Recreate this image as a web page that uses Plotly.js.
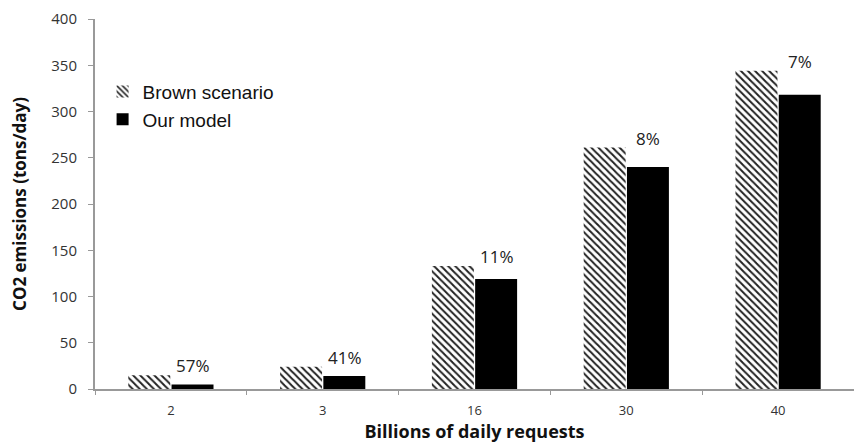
<!DOCTYPE html>
<html>
<head>
<meta charset="utf-8">
<script src="https://cdn.plot.ly/plotly-3.0.1.min.js"></script>
<style>html,body{margin:0;padding:0;background:#fff;}#chart{width:854px;height:443px;}</style>
</head>
<body>
<div id="chart"></div>
<script>
const categories = ['2', '3', '16', '30', '40'];
const brownScenario = [15, 24, 133, 261, 344];
const ourModel = [5, 14, 119, 240, 318];
const savings = ['57%', '41%', '11%', '8%', '7%'];
const seriesNames = ['Brown scenario', 'Our model'];

const traces = [
  {
    type: 'bar', name: seriesNames[0], x: categories, y: brownScenario,
    marker: {color: 'white', line: {width: 0},
      pattern: {shape: '\\', fgcolor: '#222', bgcolor: 'white', size: 5, solidity: 0.4}}
  },
  {
    type: 'bar', name: seriesNames[1], x: categories, y: ourModel,
    marker: {color: '#000', line: {width: 0}}
  }
];

const annotations = categories.map((c, i) => ({
  x: i, y: brownScenario[i], xref: 'x', yref: 'y',
  text: savings[i], showarrow: false, xshift: 22, yanchor: 'bottom', yshift: -4,
  font: {family: 'Open Sans, sans-serif', size: 17, color: '#222'}
}));

const layout = {
  width: 854, height: 443,
  margin: {l: 95, r: 0, t: 19, b: 54},
  paper_bgcolor: 'white', plot_bgcolor: 'white',
  barmode: 'group', bargap: 0.43, bargroupgap: 0.03,
  showlegend: true,
  legend: {x: 0.01, y: 0.855, xanchor: 'left', yanchor: 'top',
    font: {family: 'Liberation Sans, Arial, sans-serif', size: 19, color: '#111'},
    bgcolor: 'rgba(0,0,0,0)', itemwidth: 30, tracegroupgap: 2},
  xaxis: {
    type: 'category', range: [-0.5, 4.5], autorange: false, automargin: false,
    showgrid: false, showline: true, linecolor: '#999', linewidth: 2,
    ticks: 'outside', tickson: 'boundaries', ticklen: 4, tickcolor: '#999',
    ticklabelstandoff: 8,
    tickfont: {family: 'Open Sans, sans-serif', size: 13, color: '#333'},
    title: {text: 'Billions of daily requests', standoff: 6,
      font: {family: 'Open Sans, sans-serif', size: 18, color: '#111', weight: 'bold'}}
  },
  yaxis: {
    range: [0, 400], autorange: false, automargin: false, dtick: 50, showgrid: false, zeroline: false,
    showline: true, linecolor: '#999', linewidth: 2,
    ticks: 'outside', ticklen: 5, tickcolor: '#999', ticklabelstandoff: 8,
    tickfont: {family: 'Open Sans, sans-serif', size: 15, color: '#333'},
    title: {text: 'CO2 emissions (tons/day)', standoff: 20,
      font: {family: 'Open Sans, sans-serif', size: 17, color: '#111', weight: 'bold'}}
  },
  annotations: annotations
};

Plotly.newPlot('chart', traces, layout, {displayModeBar: false, staticPlot: true});
</script>
</body>
</html>
